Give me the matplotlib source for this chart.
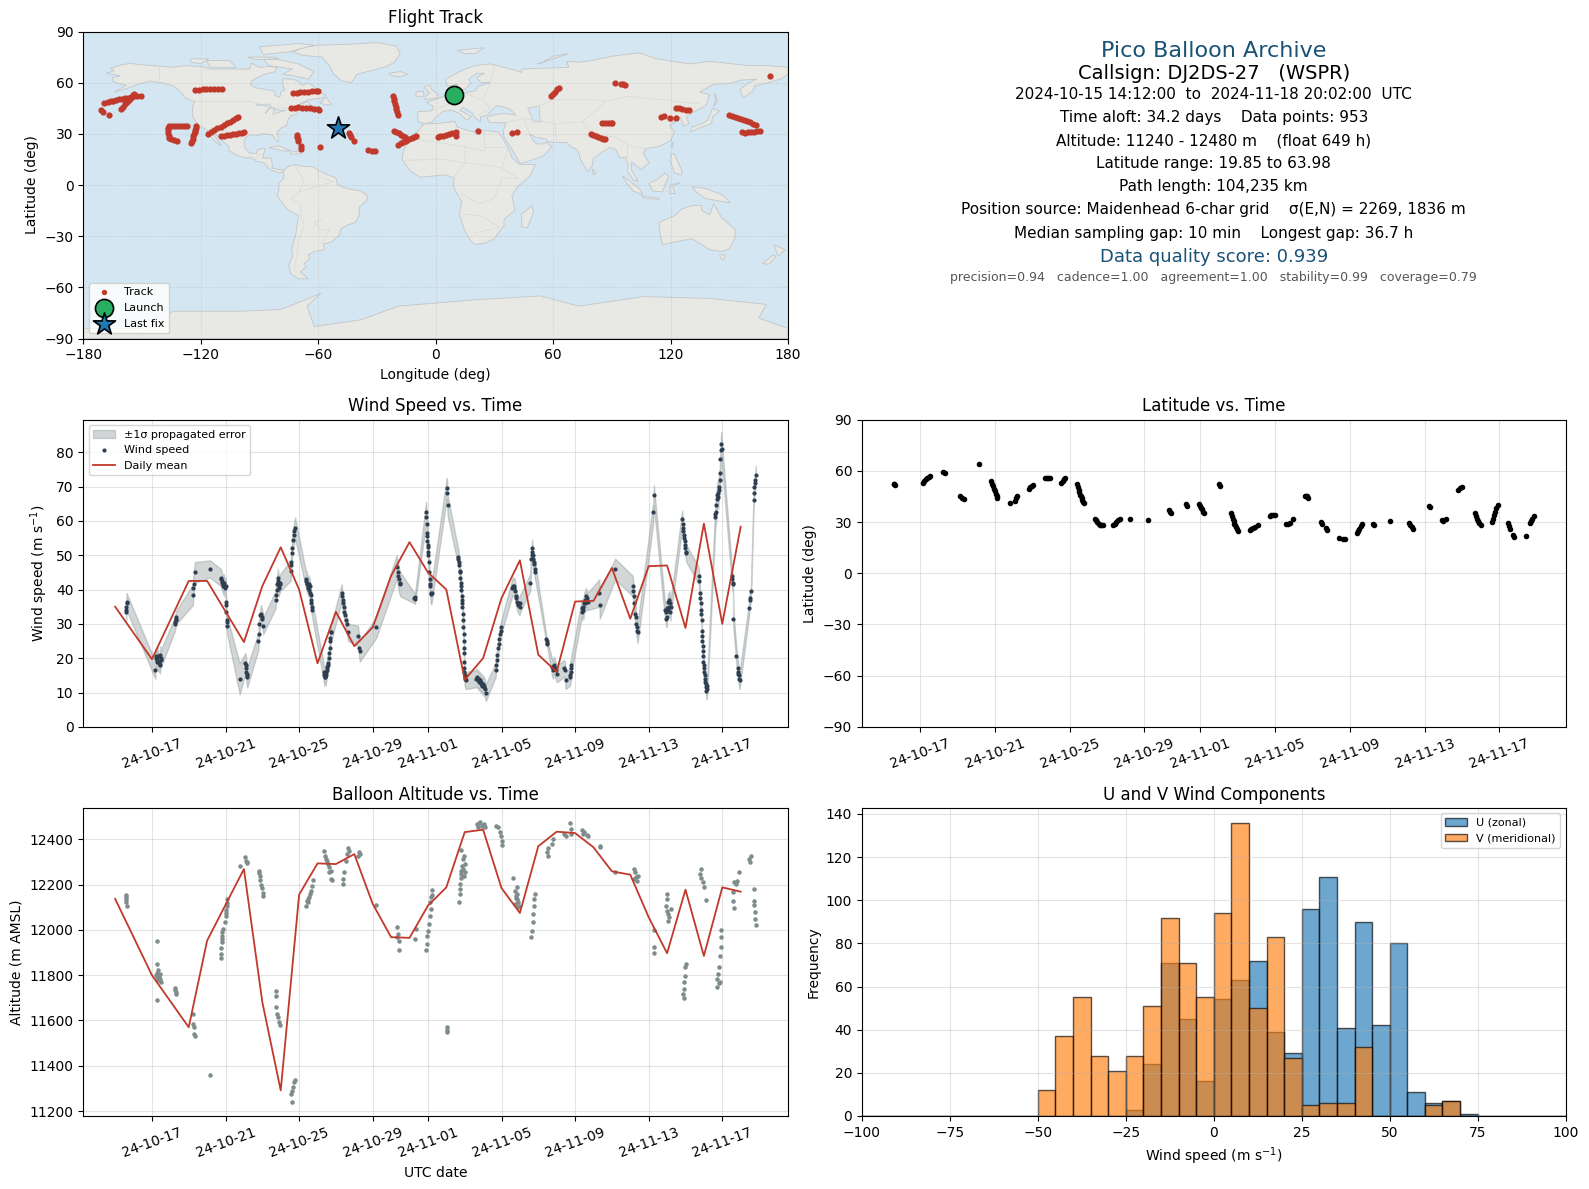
from datetime import datetime
import numpy as np
import matplotlib
matplotlib.use("Agg")
import matplotlib.pyplot as plt
import matplotlib.dates as mdates

RED = "#c0392b"
NAVY = "#2c3e50"
GREY = "#7f8c8d"
TITLE_BLUE = "#1a5276"

START = mdates.date2num(datetime(2024, 10, 15))
tick_dates = ["2024-10-17", "2024-10-21", "2024-10-25", "2024-10-29", "2024-11-01",
              "2024-11-05", "2024-11-09", "2024-11-13", "2024-11-17"]

# daily means (days since 15 Oct, days 1 and 6 have no data)
daily_day = [0, 2, 4, 5, 7, 8, 9, 10, 11, 12, 13, 14, 15, 16, 17, 18, 19, 20, 21, 22, 23, 24,
             25, 26, 27, 28, 29, 30, 31, 32, 33, 34]
daily_wind = [35, 19.7, 42.5, 42.5, 24.7, 41, 52.3, 40, 18.5, 33.5, 23.5, 29, 44, 53.8, 45, 40,
              13.7, 20, 37.5, 48.5, 21, 16, 36.5, 36.7, 46.3, 31.5, 46.8, 47, 28.8, 59.2, 30, 58.3]
daily_alt = [12137, 11800, 11570, 11953, 12269, 11681, 11291, 12156, 12294, 12291, 12335, 12115,
             11968, 11965, 12107, 12188, 12432, 12443, 12185, 12075, 12370, 12434, 12428, 12365,
             12259, 12244, 12056, 11897, 12178, 11885, 12188, 12169]
daily_alt_day = [0, 2, 4, 5, 7, 8, 9, 10, 11, 12, 13, 14, 15, 16, 17, 18, 19, 20, 21, 22, 23, 24,
                 25, 26, 27, 28, 29, 30, 31, 32, 33, 34]

# wind speed, grouped per pass
wind_day = [
    [.59, .60, .60, .62, .62],
    [2.18, 2.2, 2.22, 2.25, 2.28, 2.3, 2.33, 2.36, 2.4, 2.44, 2.46, 2.47, 2.49],
    [3.25, 3.27, 3.29, 3.31, 3.33],
    [4.23, 4.24, 4.27, 4.33],
    [5.15],
    [5.75, 5.78, 5.8, 5.83, 5.86, 5.88, 5.9, 5.93, 5.95, 6.0, 6.02, 6.03, 6.05, 6.06, 6.08, 6.09],
    [6.77],
    [7.08, 7.1, 7.12, 7.13, 7.15, 7.16, 7.18],
    [7.79, 7.8, 7.84, 7.9, 7.93, 7.96, 8.0, 8.05],
    [8.72, 8.74, 8.78, 8.8, 8.83, 8.85, 8.88, 8.9, 8.92, 8.95, 8.97],
    [9.54, 9.56, 9.58, 9.6, 9.62, 9.64, 9.72, 9.74, 9.78],
    [10.38, 10.4, 10.42, 10.45, 10.48, 10.5, 10.53, 10.55, 10.58, 10.6, 10.62, 10.65, 10.67, 10.7, 10.72],
    [11.33, 11.36, 11.38, 11.4, 11.43, 11.45, 11.48, 11.5, 11.53, 11.55, 11.58, 11.62, 11.65, 11.66, 11.68, 11.7, 11.72, 11.75],
    [12.31, 12.33, 12.36, 12.38, 12.42, 12.46, 12.5, 12.54, 12.58, 12.66],
    [13.2, 13.27, 13.3],
    [14.2],
    [15.3, 15.35, 15.38, 15.42, 15.46, 15.5],
    [16.27, 16.28, 16.3],
    [16.9, 16.92, 16.94, 16.95, 16.96, 16.97, 16.98, 17.0, 17.02, 17.03, 17.05, 17.07, 17.09, 17.1, 17.12, 17.15, 17.18, 17.2],
    [18.02, 18.05, 18.07],
    [18.64, 18.66, 18.68, 18.7, 18.72, 18.74, 18.76, 18.78, 18.8, 18.82, 18.84, 18.86, 18.87, 18.88, 18.9, 18.92, 18.93, 18.94, 18.95, 18.96, 18.97, 18.97, 18.97, 18.98, 18.99, 19.0, 19.02, 19.05],
    [19.6, 19.65, 19.7, 19.75, 19.78, 19.82, 19.86, 19.9, 19.95, 20.0, 20.03, 20.06, 20.1, 20.15],
    [20.68, 20.7, 20.73, 20.78, 20.82, 20.85, 20.88, 20.92, 20.95, 20.98],
    [21.58, 21.62, 21.66, 21.7, 21.75, 21.78, 21.8, 21.84, 21.88, 21.92, 21.98, 22.02],
    [22.56],
    [22.62, 22.64, 22.66, 22.68, 22.7, 22.72, 22.75, 22.78, 22.8, 22.84],
    [23.44, 23.46, 23.48, 23.5],
    [23.74, 23.8, 23.85, 23.9, 23.95, 24.0],
    [24.41, 24.45, 24.48, 24.72, 24.74, 24.76, 24.78, 24.79],
    [25.36, 25.38, 25.42, 25.45, 25.48, 25.52, 25.55, 25.58, 25.6, 25.64, 25.68],
    [26.32, 26.34],
    [27.18],
    [28.13, 28.16, 28.2, 28.22, 28.26, 28.3, 28.32, 28.35, 28.38, 28.4],
    [29.25, 29.28],
    [29.88, 29.92, 29.95, 29.98, 30.0, 30.03, 30.05, 30.08, 30.12, 30.15, 30.18, 30.2],
    [30.82, 30.85, 30.87, 30.89, 30.91, 30.93, 30.95, 30.97, 31.0, 31.03, 31.05],
    [31.72, 31.74, 31.78, 31.8, 31.82, 31.84, 31.86, 31.88, 31.88, 31.9, 31.92, 31.93, 31.95, 31.96, 31.97, 31.98, 32.0, 32.02, 32.04, 32.06, 32.08, 32.1, 32.12, 32.14, 32.16, 32.18],
    [32.62, 32.63, 32.66, 32.68, 32.7, 32.72, 32.75, 32.78, 32.8, 32.83, 32.86, 32.88, 32.9, 32.92, 32.95, 32.96],
    [33.52, 33.54, 33.56, 33.58, 33.6],
    [33.77, 33.85, 33.87, 33.88, 33.9, 33.92, 33.94],
    [34.46, 34.48, 34.53, 34.56],
    [34.7, 34.72, 34.75, 34.78, 34.8, 34.83],
]
wind_speed = [
    [33.5, 34, 35, 36, 36.5],
    [16.5, 20, 20.5, 19.5, 20, 19, 20.5, 18.5, 19, 18, 21, 19.5, 20],
    [30, 30.5, 31, 31.5, 32],
    [38.5, 40.5, 41.5, 45],
    [46],
    [43.5, 43, 42.5, 42, 41.5, 41, 42, 41, 40.5, 41, 36.5, 35.5, 33.5, 31, 30.5, 29.5],
    [14],
    [18.5, 18, 17, 16, 15.5, 15, 14.5],
    [25, 27, 30, 32.5, 33, 32, 31.5, 29.5],
    [37, 38.5, 40, 41.5, 42.5, 43.5, 41, 40.5, 42, 41.5, 42],
    [45.5, 47, 48, 50.5, 52, 54.5, 56, 57, 58],
    [42.5, 43, 41.5, 42, 41, 40.5, 41.5, 40, 41, 39, 38.5, 37, 36, 35, 34],
    [16, 15, 14.5, 15.5, 14.5, 15, 16, 16.5, 17.5, 18, 18.5, 20, 21.5, 23, 25, 26, 27.5, 27.5],
    [39, 38, 37, 36, 35, 33.5, 32.5, 31, 30, 27.5],
    [26.5, 23, 22],
    [29],
    [46.5, 45, 44, 43, 42, 41.5],
    [37.5, 37.7, 37.3],
    [62.5, 61, 59, 56.5, 54, 55.5, 52.5, 53, 51, 50, 48, 45, 43, 41.5, 41, 39, 38.7, 39],
    [69.5, 68, 64.5],
    [49.5, 49, 48, 47, 45.5, 45, 43.5, 42, 41, 40, 38, 37, 36, 35, 33, 31, 29, 27, 25, 23, 21.5, 19, 17, 16, 15, 14.5, 14, 13.5],
    [14, 14.5, 13.5, 14, 13, 13.5, 12.5, 13, 12, 12.5, 11.5, 12, 11, 10],
    [16.5, 18, 19.5, 21, 23, 24, 25.5, 27, 28, 29],
    [40.5, 41, 40.5, 41, 39.5, 38, 37.5, 36.5, 36, 35.5, 35, 36],
    [42],
    [49, 50, 52, 51, 50, 49, 48, 47.5, 46, 45],
    [25.5, 25, 24.5, 24],
    [17.5, 16.5, 18, 17, 16.5, 15.5],
    [17, 16.5, 13.5, 14.5, 15, 17, 16, 18],
    [34.5, 33.5, 35, 34, 36, 37, 36, 38, 36.5, 37.5, 36.5],
    [39, 35.5],
    [46],
    [41, 39.5, 38, 36, 33, 32, 30, 29, 28, 27.5],
    [62.5, 67.5],
    [34, 33.5, 31.5, 32, 34.5, 34, 36.5, 35, 37, 36, 33.5, 35],
    [60.5, 59, 58, 57, 56, 55, 54, 53, 52, 51, 50.5],
    [44, 42.5, 39, 37.5, 36, 34, 33, 31, 28, 26.5, 25, 23.5, 22, 20.5, 19, 18, 17, 16, 15, 14, 13, 12.5, 11.5, 10.5, 11, 12],
    [61, 62, 62.5, 64.5, 66.5, 67.5, 68, 67, 69, 70, 72, 74, 78, 80.5, 82.5, 81],
    [44, 43, 42, 41.5, 31.5],
    [20.5, 17, 16, 15.5, 15, 14, 13.5],
    [34.5, 37, 37.5, 39.5],
    [66, 68, 70, 71, 72, 73.5],
]
wind_sigma = [2.5, 2.5, 2, 3, 2.5, 2.5, 4.5, 3, 2.5, 2.5, 3, 2.5, 2.5, 2.5, 3, 3, 3.5, 1.5, 3, 3, 2.5, 2.5, 2,
              2.5, 2.5, 2.5, 1, 2.5, 2.5, 2.5, 4, 3, 3, 3, 2.5, 2.5, 2.5, 3.5, 2.5, 2.5, 2, 2.5]

alt_day = [.6, .6, .61, .61, .62, 2.3, 2.28, 2.2, 2.25, 2.3, 2.35, 2.38, 2.42, 2.45, 2.47, 2.3, 2.33,
           3.26, 3.27, 3.29, 3.3, 4.22, 4.25, 4.3, 4.31, 4.33, 5.15,
           5.75, 5.76, 5.78, 5.8, 5.8, 5.82, 5.82, 5.85, 5.95, 6.0, 6.02, 6.04, 6.06, 6.08, 6.1,
           6.77, 7.08, 7.12, 7.15, 7.18, 7.8, 7.82, 7.86, 7.9, 7.95, 8.0, 8.03, 8.05,
           8.72, 8.77, 8.77, 8.82, 8.85, 8.9, 8.95, 9.54, 9.62, 9.67, 9.72, 9.77, 9.62,
           10.38, 10.49, 10.56, 10.64, 10.69, 10.74, 10.45, 10.5, 10.6, 11.33, 11.41, 11.46, 11.54, 11.59, 11.64, 11.72, 11.72, 11.64, 11.8,
           12.44, 12.41, 12.36, 12.54, 12.62, 12.67, 12.69, 13.2, 13.26, 13.31, 14.2,
           15.33, 15.38, 15.33, 15.44, 15.44, 16.33, 16.28,
           16.92, 16.97, 16.97, 17.03, 17.05, 17.1, 17.15, 17.13, 17.18, 17.2, 17.23, 18.05, 18.05, 18.05,
           18.67, 18.72, 18.77, 18.82, 18.82, 18.85, 18.82, 18.9, 18.97, 19.03, 18.97, 18.72, 18.9, 18.8, 19.0,
           19.67, 19.79, 19.92, 20.05, 20.13, 19.74, 19.85, 20.69, 20.82, 20.9, 20.95, 21.0, 21.03,
           21.64, 21.72, 21.79, 21.85, 21.9, 21.85, 21.97, 21.72, 21.9, 21.8, 21.85,
           22.62, 22.67, 22.7, 22.7, 22.74, 22.79, 22.82, 23.51, 23.46, 23.51, 23.77, 23.82,
           24.41, 24.49, 24.74, 24.77, 24.79, 25.36, 25.44, 25.51, 25.62, 25.69, 26.33, 26.33, 27.18,
           28.2, 28.26, 28.31, 28.38, 28.2, 28.44, 29.28, 29.31, 29.31,
           29.97, 29.97, 29.92, 29.97, 30.05, 30.13, 30.05, 30.2, 31.03, 30.97, 30.95, 30.9, 30.92, 30.87, 30.9,
           31.87, 31.8, 31.85, 31.97, 32.03, 32.1, 32.92, 32.92, 32.92, 32.9, 32.82, 32.77, 32.69, 32.82, 32.72, 32.87,
           33.56, 33.56, 33.62, 33.64, 33.82, 33.9, 33.72, 34.49, 34.54, 34.46, 34.74, 34.74, 34.72, 34.77, 34.79, 34.83]
alt_m = [12155, 12145, 12135, 12125, 12105, 11950, 11850, 11800, 11790, 11810, 11780, 11795, 11805, 11785, 11770, 11690, 11825,
         11745, 11735, 11725, 11715, 11630, 11585, 11570, 11540, 11530, 11360,
         11875, 11895, 11920, 11945, 11960, 11975, 11990, 12005, 12035, 12060, 12075, 12090, 12105, 12120, 12135,
         12283, 12320, 12305, 12295, 12300, 12260, 12250, 12240, 12220, 12200, 12185, 12165, 12150,
         11732, 11710, 11660, 11630, 11615, 11593, 11578, 11276, 11290, 11305, 11328, 11338, 11240,
         12107, 12122, 12144, 12174, 12195, 12220, 12130, 12135, 12160, 12350, 12328, 12313, 12303, 12291, 12276, 12262, 12225, 12257, 12220,
         12254, 12225, 12203, 12306, 12335, 12362, 12350, 12328, 12343, 12335, 12110,
         12012, 11982, 11968, 11953, 11912, 12004, 11960,
         11912, 11938, 11975, 11997, 12026, 12063, 12093, 12122, 12144, 12176, 12156, 11570, 11560, 11548,
         12122, 12181, 12203, 12230, 12262, 12284, 12353, 12313, 12328, 12254, 12240, 12159, 12270, 12245, 12290,
         12468, 12471, 12460, 12468, 12456, 12456, 12478, 12460, 12456, 12431, 12416, 12394, 12376,
         12230, 12174, 12151, 12137, 12122, 12188, 12107, 12115, 12100, 12140, 12160,
         11968, 11997, 12034, 12071, 12107, 12137, 12159, 12328, 12343, 12362, 12379, 12401,
         12426, 12416, 12472, 12446, 12423, 12441, 12423, 12431, 12420, 12416, 12365, 12372, 12254,
         12269, 12254, 12232, 12218, 12225, 12240, 12000, 11924, 11897,
         12159, 12137, 12107, 12085, 12071, 12056, 12038, 12092, 11850, 11835, 11798, 11769, 11740, 11718, 11700,
         12269, 12247, 12230, 12210, 12188, 12132, 12000, 11968, 11924, 11887, 11835, 11806, 11784, 11765, 11747, 11769,
         12166, 12129, 12097, 12210, 12218, 12254, 12203, 12298, 12328, 12313, 12181, 12129, 12112, 12078, 12049, 12022]

lat_day = [.59, .62, .65, 2.15, 2.22, 2.3, 2.38, 2.45, 2.5, 3.22, 3.3, 4.15, 4.24, 4.32, 5.12,
           5.8, 5.85, 5.9, 5.95, 6.0, 6.05, 6.1, 6.13, 6.78, 7.08, 7.13, 7.18, 7.8, 7.88, 7.96, 8.06,
           8.7, 8.78, 8.85, 8.95, 9.55, 9.62, 9.68, 9.75,
           10.4, 10.44, 10.48, 10.52, 10.56, 10.6, 10.64, 10.68, 10.72, 10.75,
           11.33, 11.4, 11.47, 11.55, 11.62, 11.7, 11.76, 12.34, 12.42, 12.5, 12.6, 12.7, 13.25, 14.2,
           15.3, 15.36, 15.42, 16.2, 16.26, 16.9, 16.96, 17.02, 17.08, 17.14, 17.2, 18.0, 18.06,
           18.65, 18.7, 18.74, 18.78, 18.82, 18.86, 18.9, 18.95, 19.0, 19.63, 19.72, 19.82, 19.92, 20.06,
           20.7, 20.8, 20.9, 21.0, 21.6, 21.7, 21.8, 21.95, 22.57, 22.65, 22.72, 22.78,
           23.43, 23.5, 23.72, 23.79, 24.4, 24.6, 24.72, 25.35, 25.42, 25.5, 25.58, 25.67, 26.25, 26.3, 27.13,
           28.14, 28.2, 28.3, 28.39, 29.22, 29.26, 29.92, 30.0, 30.12, 30.8, 30.88, 30.98,
           31.69, 31.73, 31.78, 31.84, 31.92, 32.01, 32.6, 32.66, 32.72, 32.78, 32.84, 32.9,
           33.47, 33.52, 33.57, 33.73, 33.8, 34.43, 34.65, 34.7, 34.74, 34.83]
lat_deg = [52.5, 52, 51.5, 53, 54, 55, 56, 56.5, 57, 59.5, 58.5, 45, 44, 43.5, 64,
           54, 52.5, 51, 49.5, 48, 46.5, 45, 44, 41, 42.5, 44, 45, 49.5, 50.5, 51, 51.5,
           55.5, 56, 56, 55.7, 53, 54, 55, 55.7,
           52, 50.5, 49, 47.5, 46, 45, 44, 43, 42, 41,
           32, 31, 30, 29, 28.5, 28.3, 28, 28, 29, 30, 31, 31.5, 32, 31,
           37, 36, 35.5, 40.5, 39.5, 40.5, 39.5, 38.5, 37.5, 36, 35, 52, 51,
           35, 33.5, 32, 30.5, 29, 28, 27, 26, 25, 25.5, 26, 26.5, 27, 28,
           33.6, 34, 34.2, 34.2, 29, 29, 29.5, 31.5, 45.4, 45.5, 45, 44,
           30, 29, 26.5, 25.4, 20.8, 20, 20, 23.5, 25, 26, 27.5, 29, 29, 28.3, 30.3,
           29.5, 28.5, 27, 26, 39.5, 38.8, 31, 30.5, 32, 48.7, 49.8, 50.7,
           35, 33.5, 32, 30.5, 29.3, 28.5, 30, 32, 34, 36, 38, 39.7,
           29.5, 27.5, 25.7, 22.5, 21.5, 22, 29.5, 30.5, 32, 33.8]

track_lon = [-170.8, -169.9, -166.8,
             -169.2, -167.5, -166, -164.5, -163, -161.5, -160, -158.5, -157, -155.5, -154, -152.3, -150.6,
             -160.7, -159.5, -158.5, -157.5, -156.5, -155.5, -154.5, -154,
             -122.7, -121, -119, -117, -115, -113, -111, -109,
             -72.8, -71, -69, -67, -65, -63, -61, -60,
             -74, -72, -70, -68, -66, -64, -62, -60, -59.6,
             -136.2, -134.5, -133, -131.5, -130, -128.5, -127,
             -136.4, -136.4, -136.4, -136.3, -136.2, -135, -133.5, -132.3,
             -122.2, -122.4, -122.7, -123, -123.3, -123.7, -124.1, -124.6, -125,
             -116.2, -114.6, -113, -111.4, -109.8, -108.2, -106.6, -105, -103.4, -101.8, -101,
             -109.4, -108, -106.5, -105, -103.5, -102, -100.5, -99, -97.6,
             -70.9, -70.6, -70.3, -70, -68.8, -68.6, -59.1,
             -44, -43.6, -43.2, -41.5, -34.3, -30.7, -32.5,
             -21.8, -21.4, -21, -20.6, -20.3, -20, -19.7, -19.4,
             -21.1, -20, -18.8, -17.5, -16.5, -15.5,
             -19.2, -17.8, -16.4, -15, -13.6, -12.2, -10.8, -9.8,
             1, 2.5, 4, 5.5, 7, 8.5, 10.2, 10.7, 21.8, 39.1, 41.8,
             59.1, 60, 61, 62, 63.2, 91.4, 94.5, 95.5, 96.9,
             79.3, 80.5, 81.8, 83, 84.3, 85.5, 86.6,
             84.9, 86.5, 88, 89.5, 90.2,
             115, 116.5, 119.8, 122.9, 122.9, 124.5, 126, 128, 129.4,
             149.9, 151.5, 153, 154.5, 156, 157.5, 159, 160.5, 162, 163.8,
             156.4, 158, 159.5, 161, 162.5, 164, 165.5, 170.8]
track_lat = [44.2, 42.9, 40.9,
             48.1, 48.6, 49, 49.4, 49.8, 50.2, 50.5, 50.9, 51.2, 51.6, 52, 52, 51.9,
             44.6, 46, 47.5, 48.8, 50, 51.2, 52.5, 53.6,
             55.8, 55.9, 56, 56.1, 56.2, 56.3, 56.4, 56.4,
             54, 54.2, 54.4, 54.6, 54.8, 55, 55.2, 55.4,
             45.2, 45.3, 45.5, 45.4, 45.3, 45.1, 44.8, 44.4, 44.2,
             34.8, 34.7, 34.6, 34.6, 34.8, 34.6, 34.4,
             33.5, 32, 30.5, 29, 27.6, 27, 26.2, 25.6,
             34.8, 33.5, 32.3, 31, 29.8, 28.5, 27.2, 25.8, 24.7,
             30.1, 31.1, 32.2, 33.2, 34.2, 35.2, 36.2, 37.2, 38.2, 39.2, 39.9,
             29, 29, 29.2, 29.5, 29.7, 30, 30.3, 30.7, 31.1,
             29.5, 28.2, 27, 25.6, 22.7, 21, 22.1,
             30.5, 29.3, 28.2, 25.6, 20.4, 19.8, 20,
             52, 50.5, 49, 47.5, 46, 44.5, 43, 41.3,
             31.9, 31.1, 30.3, 29.5, 28.8, 28.2,
             23.7, 24.5, 25.2, 26, 26.7, 27.4, 28.1, 28.6,
             28.2, 28.6, 29, 29.5, 30, 30.5, 30.9, 28.6, 31.7, 30.5, 31.1,
             52.4, 53.5, 54.8, 56, 57.1, 60, 59.5, 59, 58.5,
             29.9, 29.2, 28.5, 27.9, 27.4, 27.2, 27,
             36.4, 36.4, 36.4, 36.4, 36.4,
             39.9, 40.2, 39.3, 39.3, 45.2, 44.9, 44.6, 44.1, 43.8,
             41.3, 40.6, 40, 39.3, 38.7, 38, 37.4, 36.8, 36, 35.4,
             30.9, 30.7, 30.8, 31, 31.2, 31.6, 31.9, 63.8]
launch_lon, launch_lat = 9.5, 52.8
last_lon, last_lat = -50, 33.5

# histogram of wind components, 5 m/s bins
bin_left = [-50, -45, -40, -35, -30, -25, -20, -15, -10, -5, 0, 5, 10, 15, 20, 25, 30, 35, 40, 45, 50, 55, 60, 65, 70]
u_count = [0, 0, 0, 0, 0, 3, 24, 71, 45, 16, 54, 63, 72, 39, 29, 96, 111, 41, 90, 42, 80, 11, 6, 7, 1]
v_count = [12, 37, 55, 28, 21, 28, 51, 92, 71, 55, 94, 136, 50, 83, 27, 5, 6, 6, 32, 0, 0, 0, 5, 7, 0]

# coarse coastlines for the basemap (lon, lat)
land_north_america = [(-168, 65.6), (-164, 67), (-166, 68.4), (-161, 70.3), (-156, 71.3), (-150, 70.5), (-141, 69.7), (-135, 69), (-128, 70), (-120, 69.5), (-115, 68), (-108, 68), (-100, 68), (-95, 68), (-94, 71.5), (-90, 69), (-85, 69.5), (-81, 69), (-82, 66.5), (-87, 65), (-90, 63.5), (-94, 61), (-94.5, 58.7), (-92, 57), (-88, 56.3), (-82, 55), (-82, 52.5), (-79.5, 51.5), (-79, 54.5), (-77, 56), (-78, 58.5), (-78, 62.3), (-73, 62), (-70, 61), (-68, 58.5), (-65, 60), (-62, 57.5), (-60, 55), (-56, 52.5), (-58, 51), (-65, 50), (-70, 47), (-65, 49), (-64.5, 47), (-61, 46), (-65.5, 44), (-67, 45), (-70, 43.5), (-70.5, 41.7), (-74, 40.5), (-75.5, 37.5), (-76, 35), (-79, 33.3), (-81, 31), (-80, 27), (-80.5, 25.2), (-82, 27), (-83, 29), (-85, 29.7), (-89, 30), (-90, 29), (-94, 29.5), (-97, 28), (-97.7, 24), (-97.5, 22), (-95, 18.7), (-91.5, 18.5), (-90.5, 21), (-87, 21.5), (-88, 17), (-88.5, 15.8), (-84, 15.8), (-83.3, 12), (-83.5, 10), (-80, 9), (-77.5, 8.7), (-78, 7.3), (-80.5, 7.3), (-83, 8.3), (-85.5, 10), (-87.5, 13), (-91.5, 14), (-94, 16), (-97, 15.8), (-101, 17.3), (-105.5, 20), (-105.5, 22.5), (-109, 26), (-112.5, 30), (-114.7, 31.7), (-113, 29), (-110, 24), (-109.5, 23), (-112, 25), (-115, 28.5), (-117, 32.5), (-120.5, 34.5), (-122.5, 37.5), (-124.3, 40.5), (-124, 46), (-123, 49), (-128, 51), (-130, 54.5), (-134, 58), (-140, 60), (-146, 61), (-152, 59), (-158, 56.5), (-164, 54.5), (-158, 58.5), (-162, 59.5), (-165, 61), (-165, 63), (-161, 64)]
land_south_america = [(-77.5, 8.7), (-75, 11), (-72, 12), (-68, 11), (-62, 10.5), (-60, 8.5), (-55, 6), (-51, 4.3), (-50, 0), (-44, -2.5), (-38, -3.5), (-35, -6), (-35, -9), (-39, -13), (-39, -18), (-41, -22), (-45, -23.5), (-48.5, -26), (-49, -29), (-53, -33.5), (-57, -34.5), (-57, -38), (-62, -39), (-65, -41), (-64, -43), (-67, -46), (-66, -48), (-69, -51), (-65, -55), (-70, -55), (-74, -52), (-75, -47), (-73, -42), (-73.5, -37), (-71.5, -30), (-70, -18), (-76, -14), (-81, -6), (-80, -2.5), (-80, 1), (-77.5, 4)]
land_greenland = [(-73, 78), (-68, 80.5), (-60, 82), (-45, 82.5), (-30, 83.5), (-20, 81.5), (-18, 77), (-21, 72), (-25, 69.5), (-33, 67), (-40, 65), (-43, 60), (-48, 61), (-52, 65), (-54, 69.5), (-58, 75), (-68, 76)]
land_africa = [(-6, 35.8), (0, 36), (10, 37.3), (11, 34), (15, 32.5), (20, 31), (21, 33), (25, 32), (32, 31), (34, 28), (37, 22), (39, 16), (43, 12), (51, 12), (48, 5), (42, -1), (39, -6), (40.5, -15), (35, -20), (35, -24), (32.8, -27), (30, -31.5), (25.5, -34), (20, -34.8), (18, -33), (15, -27), (12, -17), (13.5, -10), (9, -1), (9.5, 4), (5, 6), (-4, 5), (-8, 4.5), (-13, 8.5), (-17, 14.5), (-16.5, 20), (-13, 27.5), (-9.5, 31)]
land_eurasia = [(-9, 37), (-9, 43), (-2, 43.5), (-1, 46), (-4.5, 48.5), (2, 51), (8, 54), (8, 57), (11, 54.5), (14, 54), (20, 55), (22, 58), (28, 60), (23, 60), (21, 63), (25, 65.5), (21, 65.5), (17, 62), (18, 59.5), (15, 56), (12.5, 56), (11, 59), (6, 58), (5, 62), (13, 67), (20, 70), (28, 71), (40, 67.5), (44, 66), (44, 68), (55, 68.5), (68, 69), (67, 72.5), (73, 72), (80, 73), (90, 75.5), (104, 77.5), (113, 74), (130, 71), (140, 72.5), (160, 70), (170, 70), (180, 69), (180, 65), (177, 62.5), (170, 60), (163, 58), (162, 55), (157, 51), (155.5, 56), (160, 60), (164, 62), (156, 61.5), (150, 59.5), (142, 59), (135, 54.5), (140, 53), (138, 46.5), (132, 43), (128, 40), (129.5, 36), (126.5, 34.5), (126, 37.5), (125, 39.7), (121, 39), (118, 39), (120, 37), (122.5, 37), (119.5, 35), (122, 31), (120, 26), (114, 22.5), (108, 21.5), (106, 19), (109, 13), (105, 9), (103, 11), (100, 13.5), (100, 9), (103.5, 2), (101, 3), (98, 8), (98.5, 12), (97, 16.5), (94, 16), (92, 21), (89, 22), (86, 20), (80.5, 15.5), (80, 11), (77.5, 8), (74, 15), (72.8, 20), (72, 21), (69, 22.5), (67, 25), (61.5, 25), (57, 25.5), (56.5, 27), (51, 28), (48, 30), (50, 26), (51.5, 24.2), (54.5, 24), (56.5, 25), (59.5, 22.5), (55, 17), (45, 13), (43, 13), (39, 21), (35, 28), (34.5, 31.5), (36, 36.5), (30, 36.5), (27, 37), (26.5, 40), (29, 41), (35, 42), (41, 41), (38, 44.5), (34, 46), (31, 46.5), (28, 43), (26, 40.8), (23, 40), (23, 37), (20, 39.5), (19, 42), (14, 45.5), (12.5, 44), (16, 41.5), (18.3, 40), (16, 38), (12, 42), (8, 44), (4, 43.2), (0, 39.5), (-2, 36.8), (-5.5, 36)]
land_australia = [(114, -22), (122, -18), (126, -14), (131, -12), (136, -12), (136, -15), (140, -17.5), (142, -11), (146, -19), (153, -26), (153, -31), (150, -37.5), (146, -39), (140, -38), (136, -35), (131, -31.5), (124, -33), (116, -35), (115, -31)]
land_antarctica = [(-180, -90), (-180, -84), (-150, -84), (-134, -74), (-100, -74), (-79, -73), (-68, -68), (-58.5, -63.4), (-65.6, -71), (-62, -83), (-38, -79), (-19, -71), (20, -67.3), (53.6, -65), (73, -71), (106.5, -65.4), (140, -66.5), (169, -70), (165, -78), (180, -84), (180, -90)]
land_islands = [
    [(-24, 65.5), (-18, 66.5), (-14, 65), (-18, 63.5), (-22, 64)],
    [(-5.5, 50), (1, 51.2), (1.5, 53), (-2, 56), (-3, 58.5), (-6, 57.5), (-3, 54), (-5, 52)],
    [(-10, 52), (-6, 52), (-6, 55), (-10, 54.5)],
    [(49.5, -12), (50, -16), (47, -25), (44, -24.5), (44, -17)],
    [(130, 31.5), (131, 34), (136, 36), (139, 38), (140, 41), (141.5, 45), (145, 43.5), (141.5, 40), (141, 36), (136, 34), (131, 31.5)],
    [(142, 46), (143, 50), (142.5, 54), (144, 49)],
    [(95.5, 5.5), (104, -2), (106, -6), (101, -3.5), (97, 2)],
    [(105.5, -6.5), (114, -7.5), (114, -8.5), (106, -7.5)],
    [(109, 1), (113, 3), (117, 7), (119, 5), (117.5, 1), (116, -4), (111, -3.5)],
    [(119.5, -5), (120, 0), (125, 1.5), (121, -1), (122.5, -5)],
    [(131, -1), (138, -2), (147, -6), (150.5, -10.5), (143, -9), (138, -8), (133, -4)],
    [(120.5, 18.5), (122, 18), (124, 13), (126, 8), (125.5, 6), (122, 7), (120, 14)],
    [(120, 23), (121.5, 25), (121, 22)],
    [(80, 9.5), (82, 7), (80.5, 6)],
    [(173, -35), (178.5, -38), (175, -41.5), (174, -39)],
    [(172.5, -41), (174, -42), (170, -46.5), (167, -46)],
    [(145, -41), (148, -41), (147.5, -43.5), (146, -43.5)],
    [(-85, 22), (-80, 23), (-74, 20), (-78, 20)],
    [(-74, 19.5), (-69, 19.5), (-68.5, 18.3), (-74, 18)],
    [(-59, 48), (-56, 51.5), (-53, 47), (-56, 47)],
    [(-80, 73.5), (-70, 71), (-62, 66.5), (-65, 62), (-72, 64), (-78, 65), (-73, 68), (-85, 70), (-88, 73.5)],
    [(-117, 73), (-105, 73), (-102, 69), (-115, 69)],
    [(-90, 81), (-70, 83), (-62, 82), (-75, 78), (-88, 76.5)],
    [(-125, 74), (-116, 74), (-120, 71), (-125, 72)],
    [(-96, 75), (-82, 75), (-80, 74), (-92, 73.5)],
    [(11, 79), (25, 80.5), (20, 77), (15, 77)],
    [(52, 71), (68, 77), (60, 75.5), (55, 72)],
]
water_inland = [
    [(47, 45), (53, 46.5), (53, 40), (54, 37), (50, 37), (49, 40)],
    [(-92, 47), (-85, 47.5), (-84, 46), (-87, 42), (-85, 45), (-80, 44), (-79, 43.5), (-76, 44), (-83, 41.5), (-82, 45), (-85, 46)],
]
border_lines = [
    [(-123, 49), (-95, 49), (-83, 45.5), (-75, 45), (-67, 47)],
    [(-141, 69.7), (-141, 60)],
    [(-117, 32.5), (-106, 31.5), (-97.5, 26)],
    [(-92, 14.5), (-91, 17.5), (-88, 18)],
    [(-72, 12), (-67, 2), (-70, -4), (-74, -8), (-69, -11), (-69, -18), (-67, -23), (-70, -33), (-72, -50)],
    [(-60, 8.5), (-60, 5), (-52, 2), (-70, -4)],
    [(-58, -20), (-62, -22), (-58, -27), (-54, -26), (-58, -34)],
    [(-8, 27), (-13, 27.5), (12, 23), (25, 20), (25, 32)],
    [(25, 22), (37, 22), (34, 10), (42, 4), (34, 4), (30, -8), (22, -11), (13, -5)],
    [(-17, 14.5), (4, 15), (15, 13), (24, 12), (34, 10)],
    [(9, 4), (15, 13), (15, 23)],
    [(12, -17), (23, -18), (33, -25), (20, -28)],
    [(-2, 43.5), (8, 48), (14, 54), (24, 50), (28, 45), (22, 41)],
    [(24, 50), (28, 60), (30, 69)],
    [(36, 36.5), (45, 39), (48, 30)],
    [(45, 39), (61, 36), (62, 25)],
    [(50, 45), (60, 50), (80, 50), (87, 49), (98, 52), (116, 50), (130, 48), (135, 48)],
    [(87, 49), (80, 42), (75, 37), (80, 30), (92, 28), (98, 24), (102, 22), (108, 21.5)],
    [(61, 36), (75, 37)],
    [(98, 24), (98, 16)],
]


def date_axis(ax):
    ax.set_xticks([mdates.date2num(datetime.strptime(d, "%Y-%m-%d")) for d in tick_dates])
    ax.xaxis.set_major_formatter(mdates.DateFormatter("%y-%m-%d"))
    ax.tick_params(axis="x", rotation=20)


fig = plt.figure(figsize=(15.89, 11.89), dpi=100)
ax_map = fig.add_axes([.0523, .7153, .4436, .2582])
ax_txt = fig.add_axes([.5424, .7153, .4429, .2582])
ax_wind = fig.add_axes([.0523, .3887, .4436, .2584])
ax_lat = fig.add_axes([.5424, .3887, .4429, .2584])
ax_alt = fig.add_axes([.0523, .0614, .4436, .2591])
ax_hist = fig.add_axes([.5424, .0614, .4429, .2591])

# flight track
ax_map.set_facecolor("#d4e6f1")
for poly in [land_north_america, land_south_america, land_greenland, land_africa, land_eurasia,
             land_australia, land_antarctica] + land_islands:
    ax_map.fill(*zip(*poly), facecolor="#e8e8e4", edgecolor="#c2c6c8", linewidth=.6, zorder=1)
for poly in water_inland:
    ax_map.fill(*zip(*poly), facecolor="#d4e6f1", edgecolor="#c2c6c8", linewidth=.5, zorder=1.1)
for line in border_lines:
    ax_map.plot(*zip(*line), color="#d8dad9", linewidth=.5, zorder=1.2)
ax_map.scatter(track_lon, track_lat, s=12, color=RED, zorder=3, label="Track")
ax_map.scatter([launch_lon], [launch_lat], s=170, color="#27ae60", edgecolors="k", linewidths=1.2, zorder=4, label="Launch")
ax_map.scatter([last_lon], [last_lat], s=280, marker="*", color="#1f77b4", edgecolors="k", linewidths=1.2, zorder=4, label="Last fix")
ax_map.set_xlim(-180, 180)
ax_map.set_ylim(-90, 90)
ax_map.set_xticks(np.arange(-180, 181, 60))
ax_map.set_yticks(np.arange(-90, 91, 30))
ax_map.grid(True, linestyle="--", linewidth=.5, alpha=.4, zorder=2)
ax_map.set_xlabel("Longitude (deg)")
ax_map.set_ylabel("Latitude (deg)")
ax_map.set_title("Flight Track")
leg_map = ax_map.legend(loc="lower left", fontsize=8, framealpha=.85)
leg_map.legend_handles[0].set_sizes([8])

# summary text
ax_txt.axis("off")
ax_txt.set_xlim(0, 1)
ax_txt.set_ylim(1173 - 334, 1173 - 31)
summary = [
    (50, "Pico Balloon Archive", 16, TITLE_BLUE),
    (72, "Callsign: DJ2DS-27   (WSPR)", 14, "black"),
    (93, "2024-10-15 14:12:00  to  2024-11-18 20:02:00  UTC", 11, "black"),
    (116, "Time aloft: 34.2 days    Data points: 953", 11, "black"),
    (139, "Altitude: 11240 - 12480 m    (float 649 h)", 11, "black"),
    (161, "Latitude range: 19.85 to 63.98", 11, "black"),
    (184, "Path length: 104,235 km", 11, "black"),
    (207, "Position source: Maidenhead 6-char grid    \u03c3(E,N) = 2269, 1836 m", 11, "black"),
    (230, "Median sampling gap: 10 min    Longest gap: 36.7 h", 11, "black"),
    (254, "Data quality score: 0.939", 13, TITLE_BLUE),
    (274, "precision=0.94   cadence=1.00   agreement=1.00   stability=0.99   coverage=0.79", 9, "#555555"),
]
for y, s, fs, col in summary:
    ax_txt.text(.5, 1173 - y, s, fontsize=fs, color=col, ha="center", va="center")

# wind speed
w_t = START + np.concatenate(wind_day)
w_v = np.concatenate(wind_speed)
w_s = np.repeat(wind_sigma, [len(c) for c in wind_day])
ax_wind.fill_between(w_t, w_v - w_s, w_v + w_s, color=GREY, alpha=.35, label="\u00b11\u03c3 propagated error")
ax_wind.scatter(w_t, w_v, s=4, color=NAVY, zorder=3, label="Wind speed")
ax_wind.plot(START + np.array(daily_day), daily_wind, color=RED, linewidth=1.3, zorder=4, label="Daily mean")
ax_wind.set_ylim(0, 89.5)
ax_wind.set_ylabel("Wind speed (m s$^{-1}$)")
ax_wind.set_title("Wind Speed vs. Time")
ax_wind.legend(loc="upper left", fontsize=8)
ax_wind.grid(True, alpha=.35)
date_axis(ax_wind)

# latitude
ax_lat.scatter(START + np.array(lat_day), lat_deg, s=9, color="k", zorder=3)
ax_lat.set_ylim(-90, 90)
ax_lat.set_yticks(np.arange(-90, 91, 30))
ax_lat.set_ylabel("Latitude (deg)")
ax_lat.set_title("Latitude vs. Time")
ax_lat.grid(True, alpha=.35)
date_axis(ax_lat)

# altitude
ax_alt.scatter(START + np.array(alt_day), alt_m, s=5, color=GREY, zorder=3)
ax_alt.plot(START + np.array(daily_alt_day), daily_alt, color=RED, linewidth=1.3, zorder=4)
ax_alt.set_ylim(11178, 12539)
ax_alt.set_yticks(np.arange(11200, 12401, 200))
ax_alt.set_xlabel("UTC date")
ax_alt.set_ylabel("Altitude (m AMSL)")
ax_alt.set_title("Balloon Altitude vs. Time")
ax_alt.grid(True, alpha=.35)
date_axis(ax_alt)

# U and V histogram
bins = np.arange(-100, 101, 5)
centres = np.array(bin_left) + 2.5
ax_hist.hist(centres, bins=bins, weights=u_count, color="#1f77b4", alpha=.65, edgecolor="k", label="U (zonal)")
ax_hist.hist(centres, bins=bins, weights=v_count, color="#ff7f0e", alpha=.65, edgecolor="k", label="V (meridional)")
ax_hist.set_xlim(-100, 100)
ax_hist.set_xlabel("Wind speed (m s$^{-1}$)")
ax_hist.set_ylabel("Frequency")
ax_hist.set_title("U and V Wind Components")
ax_hist.legend(loc="upper right", fontsize=8)
ax_hist.grid(True, alpha=.35)

fig.savefig("out.png", dpi=100)
